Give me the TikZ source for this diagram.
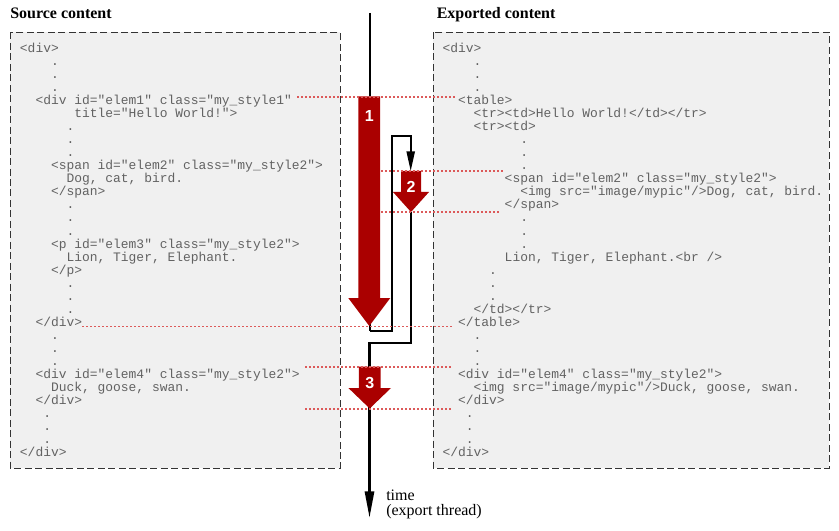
\documentclass[tikz,border=0pt]{standalone}
\usepackage{fontspec}
\setmainfont{Liberation Serif}
\newfontfamily\codefont{Liberation Mono}
\newfontfamily\numfont{Liberation Sans}
\usetikzlibrary{arrows.meta}
\definecolor{boltred}{HTML}{AA0000}
\definecolor{guidered}{HTML}{DC5A5A}
\definecolor{codegray}{HTML}{626262}
\definecolor{panelfill}{HTML}{F0F0F0}
\definecolor{inkdark}{HTML}{333333}

\begin{document}
\begin{tikzpicture}[
    x=0.75pt, y=-0.75pt,
    panel/.style={draw=inkdark, fill=panelfill, line width=0.75pt,
                  dash pattern=on 5.25pt off 2.6pt},
    code/.style={font=\codefont\fontsize{9.71pt}{9.75pt}\selectfont,
                 text=codegray, inner sep=0pt, anchor=base west},
    title/.style={font=\bfseries\fontsize{12pt}{14pt}\selectfont,
                  inner sep=0pt, anchor=base west},
    lbl/.style={font=\fontsize{12pt}{14pt}\selectfont, inner sep=0pt,
                anchor=base west},
    num/.style={font=\numfont\bfseries\fontsize{12pt}{14pt}\selectfont,
                text=white, inner sep=0pt},
    bolt/.style={fill=boltred},
    guide/.style={guidered, line width=1.1pt, dash pattern=on 1.5pt off 1.5pt},
    thread/.style={black, line width=1.5pt},
    loopline/.style={black, line width=1.2pt},
]
\useasboundingbox (0,0) rectangle (839,531);

% =====================================================================
% panels and titles
% =====================================================================
\draw[panel] (10,32.5) rectangle (340,468);
\draw[panel] (433,32.5) rectangle (829,468);
\node[title] (srctitle) at (10,18.5) {Source content};
\node[title] (exptitle) at (436.5,18.5) {Exported content};

% source lines (column / text)
\foreach \col/\txt [count=\n] in {0/{<div>}, 4/{.}, 4/{.}, 4/{.},
    2/{<div id="elem1" class="my\_style1"}, 7/{title="Hello World!">},
    6/{.}, 6/{.}, 6/{.},
    4/{<span id="elem2" class="my\_style2">}, 6/{Dog, cat, bird.}, 4/{</span>},
    6/{.}, 6/{.}, 6/{.},
    4/{<p id="elem3" class="my\_style2">}, 6/{Lion, Tiger, Elephant.}, 4/{</p>},
    6/{.}, 6/{.}, 6/{.},
    2/{</div>}, 4/{.}, 4/{.}, 4/{.},
    2/{<div id="elem4" class="my\_style2">}, 4/{Duck, goose, swan.}, 2/{</div>},
    3/{.}, 3/{.}, 3/{.}, 0/{</div>}} {
    \node[code] (src\n) at ({19.7+\col*7.77},{53+13*(\n-1)}) {\txt};
}

% exported lines
\foreach \col/\txt [count=\n] in {0/{<div>}, 4/{.}, 4/{.}, 4/{.},
    2/{<table>}, 4/{<tr><td>Hello World!</td></tr>}, 4/{<tr><td>},
    10/{.}, 10/{.}, 10/{.},
    8/{<span id="elem2" class="my\_style2">},
    10/{<img src="image/mypic"/>Dog, cat, bird.}, 8/{</span>},
    10/{.}, 10/{.}, 10/{.},
    8/{Lion, Tiger, Elephant.<br />},
    6/{.}, 6/{.}, 6/{.},
    4/{</td></tr>}, 2/{</table>}, 4/{.}, 4/{.}, 4/{.},
    2/{<div id="elem4" class="my\_style2">},
    4/{<img src="image/mypic"/>Duck, goose, swan.}, 2/{</div>},
    3/{.}, 3/{.}, 3/{.}, 0/{</div>}} {
    \node[code] (exp\n) at ({442.3+\col*7.77},{53+13*(\n-1)}) {\txt};
}

% =====================================================================
% export thread
% =====================================================================
\coordinate (ttop)  at (369.5,13);
\coordinate (bend1) at (369.5,331);
\coordinate (up)    at (392,136);
\coordinate (in2)   at (410.7,171);
\coordinate (out2)  at (410.7,212);
\coordinate (bend2) at (369.5,343);
\coordinate (tend)  at (369.5,518);

\draw[thread] (ttop) -- (bend1);
\draw[loopline, -{Triangle[length=14.8pt,width=6.2pt]}] (bend1) -| (up) -| (in2);
\draw[loopline] (out2) |- (bend2);
\draw[thread, line width=2pt, line cap=rect, -{Triangle[length=20pt,width=6.8pt]}]
    (bend2) -- (tend);

% red block arrows: centre x / top / neck / tip / shaft / head / label y
\foreach \a/\x/\ya/\yb/\yc/\sw/\hw/\ny in {1/369.3/96.5/298/326/10.9/21/116,
    2/411/171/192/212/10/18/186.7, 3/369.7/366.5/388/408.5/10.8/21.3/383.5} {
    \fill[bolt] (\x-\sw,\ya) -- (\x+\sw,\ya) -- (\x+\sw,\yb) -- (\x+\hw,\yb)
        -- (\x,\yc) -- (\x-\hw,\yb) -- (\x-\sw,\yb) -- cycle;
    \node[num] (n\a) at (\x,\ny) {\a};
}

% dotted guides between matching lines
\foreach \g/\xa/\xb/\y in {1/297/455/97, 2/381/503/171, 3/381/499/212,
    4/82/453/326.5, 5/305/452/367, 6/305/452/409} {
    \coordinate (gl\g) at (\xa,\y);
    \coordinate (gr\g) at (\xb,\y);
    \draw[guide] (gl\g) -- (gr\g);
}

\node[lbl] (tlabel)  at (386,500.5) {time};
\node[lbl] (tlabel2) at (386,515) {(export thread)};

\end{tikzpicture}
\end{document}
